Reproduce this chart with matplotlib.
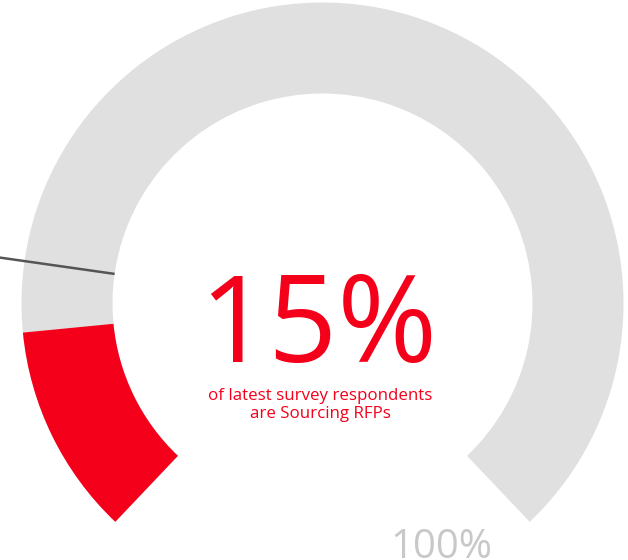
import matplotlib.pyplot as plt
from matplotlib.patches import Wedge
import numpy as np

plt.rcParams['font.family'] = ['Open Sans', 'DejaVu Sans']

# gauge data
value = 15
marker = 20
max_value = 100
value_label = '15%'
max_label = '100%'
caption = 'of latest survey respondents\nare Sourcing RFPs'

red = '#F4001A'
grey = '#E0E0E0'

fig = plt.figure(figsize=(6.28, 5.6), dpi=100)
ax = fig.add_axes([0, 0, 1, 1])
ax.set_xlim(0, 628)
ax.set_ylim(0, 560)
ax.set_aspect('equal')
ax.axis('off')

cx, cy = 322.5, 256.5
r_out, r_in = 301, 210
start, sweep = 226.5, 273


def ang(v):
    return start - sweep * v / max_value


ax.add_patch(Wedge((cx, cy), r_out, ang(max_value), start, width=r_out - r_in,
                   facecolor=grey, edgecolor='none'))
ax.add_patch(Wedge((cx, cy), r_out, ang(value), start, width=r_out - r_in,
                   facecolor=red, edgecolor='none'))

t = np.radians(ang(marker))
ax.plot([cx + r_in * np.cos(t), cx + 345 * np.cos(t)],
        [cy + r_in * np.sin(t), cy + 345 * np.sin(t)],
        color='#555555', lw=1.8, solid_capstyle='butt')

ax.text(318, 198, value_label, color=red, fontsize=87, ha='center', va='baseline')
ax.text(320, 155, caption, color=red, fontsize=12.2, ha='center', va='center',
        linespacing=1.2)
ax.text(441, 2, max_label, color='#C8C8C8', fontsize=29, ha='center', va='baseline')

fig.savefig('out.png', dpi=100)
